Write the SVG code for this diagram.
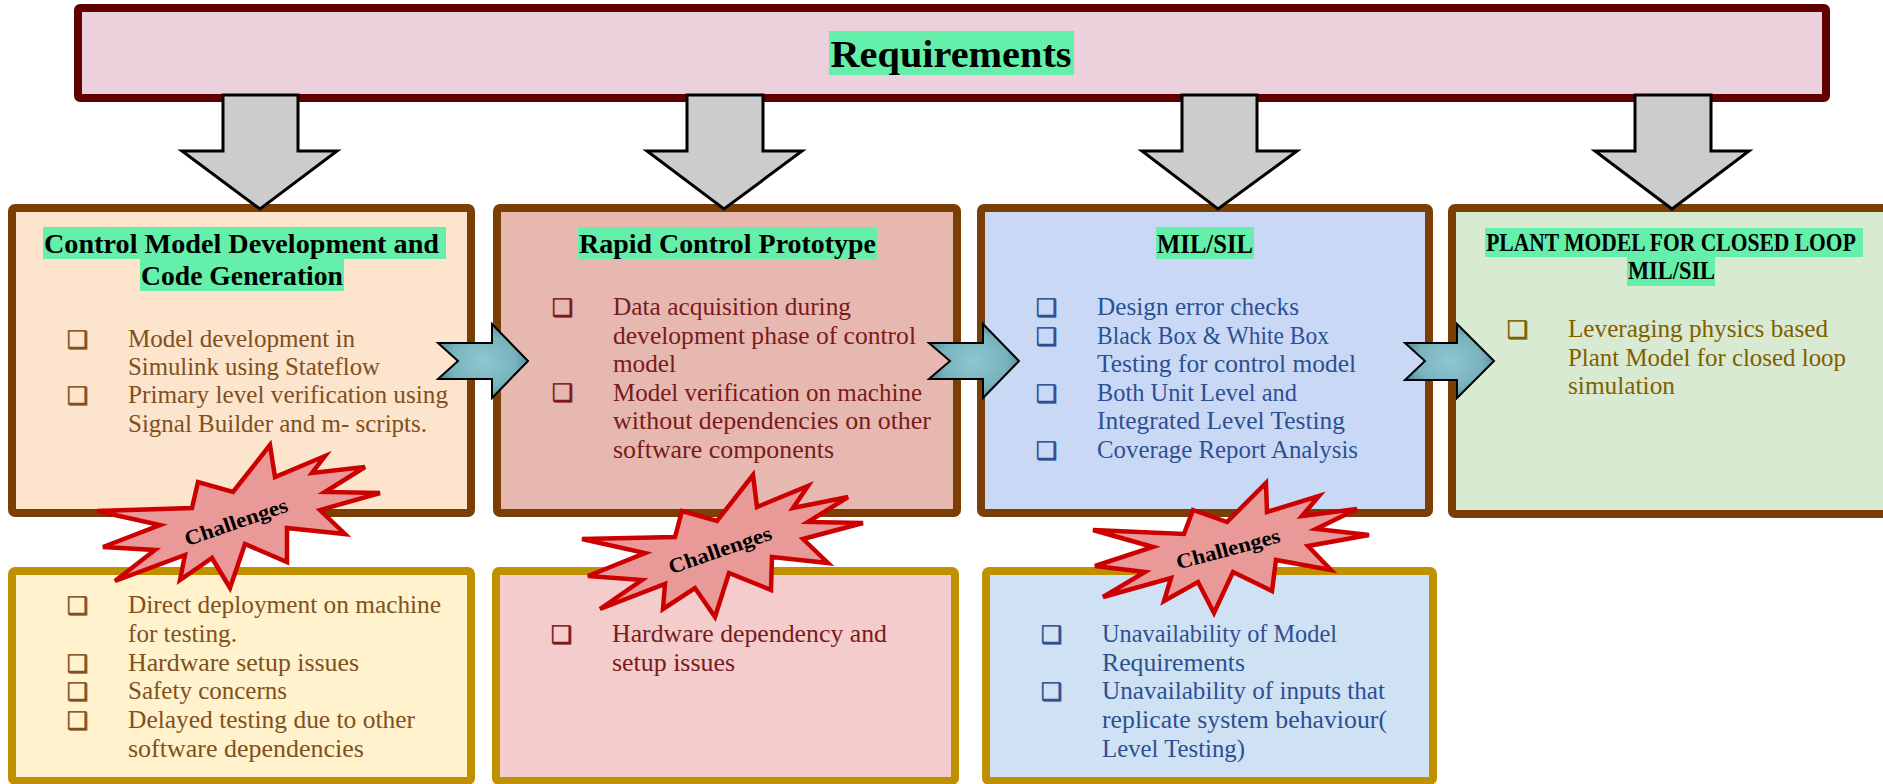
<svg xmlns="http://www.w3.org/2000/svg" width="1883" height="784" viewBox="0 0 1883 784">
  <defs>
    <style>
      .hdr { font-family: "Liberation Serif", "DejaVu Serif", serif; font-weight: bold; fill: #000; }
      .body { font-family: "Liberation Serif", "DejaVu Serif", serif; font-size: 24.5px; }
      .bul { font-family: "DejaVu Sans", sans-serif; font-size: 24px; stroke-width: 0.6; }
      .brown { fill: #7F5020; stroke: #7F5020; }
      .red { fill: #7A1A1A; stroke: #7A1A1A; }
      .blue { fill: #2E4F92; stroke: #2E4F92; }
      .olive { fill: #7F6000; stroke: #7F6000; }
      .body.brown, .body.red, .body.blue, .body.olive { stroke: none; }
      .hl { fill: #64F0AA; }
      .top { stroke: #7B3F06; stroke-width: 8; }
      .bot { stroke: #BF9000; stroke-width: 8; }
      .down { fill: #CCCCCC; stroke: #000; stroke-width: 3; stroke-linejoin: miter; }
      .flow { fill: url(#teal); stroke: #000; stroke-width: 2; stroke-linejoin: miter; }
      .star { fill: #E99A98; stroke: #CC0000; stroke-width: 4.5; stroke-linejoin: miter; }
      .chal { font-family: "Liberation Serif", "DejaVu Serif", serif; font-weight: bold; font-size: 21px; fill: #000; }
    </style>
    <radialGradient id="teal" cx="0.5" cy="0.5" r="0.6">
      <stop offset="0" stop-color="#8FC7D1"/>
      <stop offset="0.6" stop-color="#79B3BE"/>
      <stop offset="1" stop-color="#3F7E8B"/>
    </radialGradient>
  </defs>

  <!-- Requirements banner -->
  <g id="requirements">
    <rect x="78" y="8" width="1748" height="90" rx="2" fill="#EAD1DC" stroke="#600000" stroke-width="8"/>
    <rect class="hl" x="829" y="31" width="245" height="44"/>
    <text class="hdr" x="951" y="67" font-size="37" text-anchor="middle" textLength="241" lengthAdjust="spacingAndGlyphs">Requirements</text>
  </g>

  <!-- Top row: process stages -->
  <g id="control-model">
    <rect class="top" x="12" y="208" width="459" height="305" rx="3" fill="#FCE4CD"/>
    <rect class="hl" x="43" y="227" width="403" height="32"/>
    <rect class="hl" x="140" y="259" width="204" height="32"/>
    <text class="hdr" x="241.5" y="253" font-size="28" text-anchor="middle" textLength="395" lengthAdjust="spacingAndGlyphs">Control Model Development and</text>
    <text class="hdr" x="242" y="285" font-size="28" text-anchor="middle" textLength="202" lengthAdjust="spacingAndGlyphs">Code Generation</text>
    <g class="bul brown">
      <text x="67" y="348">❑</text>
      <text x="67" y="404">❑</text>
    </g>
    <g class="body brown">
      <text x="128" y="347" textLength="227" lengthAdjust="spacingAndGlyphs">Model development in</text>
      <text x="128" y="375" textLength="252" lengthAdjust="spacingAndGlyphs">Simulink using Stateflow</text>
      <text x="128" y="403" textLength="320" lengthAdjust="spacingAndGlyphs">Primary level verification using</text>
      <text x="128" y="432" textLength="299" lengthAdjust="spacingAndGlyphs">Signal Builder and m- scripts.</text>
    </g>
  </g>

  <g id="rapid-prototype">
    <rect class="top" x="497" y="208" width="460" height="305" rx="3" fill="#E6B8B0"/>
    <rect class="hl" x="578" y="227" width="299" height="32"/>
    <text class="hdr" x="727.5" y="253" font-size="28" text-anchor="middle" textLength="297" lengthAdjust="spacingAndGlyphs">Rapid Control Prototype</text>
    <g class="bul red">
      <text x="552" y="316">❑</text>
      <text x="552" y="401">❑</text>
    </g>
    <g class="body red">
      <text x="613" y="315" textLength="238" lengthAdjust="spacingAndGlyphs">Data acquisition during</text>
      <text x="613" y="343.6" textLength="303" lengthAdjust="spacingAndGlyphs">development phase of control</text>
      <text x="613" y="372.2" textLength="63" lengthAdjust="spacingAndGlyphs">model</text>
      <text x="613" y="400.8" textLength="309" lengthAdjust="spacingAndGlyphs">Model verification on machine</text>
      <text x="613" y="429.4" textLength="318" lengthAdjust="spacingAndGlyphs">without dependencies on other</text>
      <text x="613" y="458" textLength="221" lengthAdjust="spacingAndGlyphs">software components</text>
    </g>
  </g>

  <g id="mil-sil">
    <rect class="top" x="981" y="208" width="448" height="305" rx="3" fill="#C9D9F5"/>
    <rect class="hl" x="1156" y="227" width="98" height="32"/>
    <text class="hdr" x="1205" y="253" font-size="28" text-anchor="middle" textLength="96" lengthAdjust="spacingAndGlyphs">MIL/SIL</text>
    <g class="bul blue">
      <text x="1036" y="316">❑</text>
      <text x="1036" y="344.6">❑</text>
      <text x="1036" y="401.8">❑</text>
      <text x="1036" y="459">❑</text>
    </g>
    <g class="body blue">
      <text x="1097" y="315" textLength="202" lengthAdjust="spacingAndGlyphs">Design error checks</text>
      <text x="1097" y="343.6" textLength="232" lengthAdjust="spacingAndGlyphs">Black Box &amp; White Box</text>
      <text x="1097" y="372.2" textLength="259" lengthAdjust="spacingAndGlyphs">Testing for control model</text>
      <text x="1097" y="400.8" textLength="200" lengthAdjust="spacingAndGlyphs">Both Unit Level and</text>
      <text x="1097" y="429.4" textLength="248" lengthAdjust="spacingAndGlyphs">Integrated Level Testing</text>
      <text x="1097" y="458" textLength="261" lengthAdjust="spacingAndGlyphs">Coverage Report Analysis</text>
    </g>
  </g>

  <g id="plant-model">
    <rect class="top" x="1452" y="208" width="440" height="306" rx="3" fill="#D9EAD3"/>
    <rect class="hl" x="1485" y="228" width="378" height="29"/>
    <rect class="hl" x="1627" y="257" width="88" height="29"/>
    <text class="hdr" transform="translate(1671,251) scale(0.8,1)" x="0" y="0" font-size="24.5" text-anchor="middle" textLength="462" lengthAdjust="spacingAndGlyphs">PLANT MODEL FOR CLOSED LOOP</text>
    <text class="hdr" x="1671.5" y="279" font-size="24.5" text-anchor="middle" textLength="87" lengthAdjust="spacingAndGlyphs">MIL/SIL</text>
    <g class="bul olive">
      <text x="1507" y="338">❑</text>
    </g>
    <g class="body olive">
      <text x="1568" y="337" textLength="260" lengthAdjust="spacingAndGlyphs">Leveraging physics based</text>
      <text x="1568" y="366" textLength="278" lengthAdjust="spacingAndGlyphs">Plant Model for closed loop</text>
      <text x="1568" y="394" textLength="107" lengthAdjust="spacingAndGlyphs">simulation</text>
    </g>
  </g>

  <!-- Bottom row: challenges per stage -->
  <g id="control-model-challenges">
    <rect class="bot" x="12" y="571" width="459" height="210" rx="3" fill="#FFF2CC"/>
    <g class="bul brown">
      <text x="67" y="614">❑</text>
      <text x="67" y="672">❑</text>
      <text x="67" y="700">❑</text>
      <text x="67" y="729">❑</text>
    </g>
    <g class="body brown">
      <text x="128" y="613" textLength="313" lengthAdjust="spacingAndGlyphs">Direct deployment on machine</text>
      <text x="128" y="642" textLength="109" lengthAdjust="spacingAndGlyphs">for testing.</text>
      <text x="128" y="671" textLength="231" lengthAdjust="spacingAndGlyphs">Hardware setup issues</text>
      <text x="128" y="699" textLength="159" lengthAdjust="spacingAndGlyphs">Safety concerns</text>
      <text x="128" y="728" textLength="287" lengthAdjust="spacingAndGlyphs">Delayed testing due to other</text>
      <text x="128" y="757" textLength="236" lengthAdjust="spacingAndGlyphs">software dependencies</text>
    </g>
  </g>

  <g id="rapid-prototype-challenges">
    <rect class="bot" x="496" y="571" width="459" height="210" rx="3" fill="#F4CCCC"/>
    <g class="bul red">
      <text x="551" y="643">❑</text>
    </g>
    <g class="body red">
      <text x="612" y="642" textLength="275" lengthAdjust="spacingAndGlyphs">Hardware dependency and</text>
      <text x="612" y="671" textLength="123" lengthAdjust="spacingAndGlyphs">setup issues</text>
    </g>
  </g>

  <g id="mil-sil-challenges">
    <rect class="bot" x="986" y="571" width="447" height="210" rx="3" fill="#CFE2F3"/>
    <g class="bul blue">
      <text x="1041" y="643">❑</text>
      <text x="1041" y="700">❑</text>
    </g>
    <g class="body blue">
      <text x="1102" y="642" textLength="235" lengthAdjust="spacingAndGlyphs">Unavailability of Model</text>
      <text x="1102" y="671" textLength="143" lengthAdjust="spacingAndGlyphs">Requirements</text>
      <text x="1102" y="699" textLength="283" lengthAdjust="spacingAndGlyphs">Unavailability of inputs that</text>
      <text x="1102" y="728" textLength="285" lengthAdjust="spacingAndGlyphs">replicate system behaviour(</text>
      <text x="1102" y="757" textLength="143" lengthAdjust="spacingAndGlyphs">Level Testing)</text>
    </g>
  </g>

  <!-- Connectors: block arrows -->
  <g id="connectors">
    <polygon class="down" points="223,95 298,95 298,151 337,151 260,209 182,151 223,151"/>
    <polygon class="down" points="687,95 763,95 763,151 802,151 724,209 647,151 687,151"/>
    <polygon class="down" points="1182,95 1257,95 1257,151 1297,151 1218,209 1142,151 1182,151"/>
    <polygon class="down" points="1635,95 1711,95 1711,151 1749,151 1672,209 1595,151 1635,151"/>

    <polygon class="flow" points="438,343 492,343 492,324 528,361 492,398 492,379 438,379 458,361"/>
    <polygon class="flow" points="929,343 983,343 983,324 1019,361 983,398 983,379 929,379 950,361"/>
    <polygon class="flow" points="1405,343 1457,343 1457,324 1494,361 1457,398 1457,380 1405,380 1425,361"/>
  </g>

  <!-- Challenge bursts -->
  <g id="burst-1">
    <polygon class="star" points="270,445 275,477 325,456 312,473 365,467 325,492 380,493 320,510 345,534 287,528 287,562 245,544 230,588 212,558 180,580 185,555 115,581 155,550 103,547 160,525 97,511 192,508 198,482 233,492"/>
    <text class="chal" transform="translate(236,522) rotate(-19)" x="0" y="7" text-anchor="middle" textLength="108" lengthAdjust="spacingAndGlyphs">Challenges</text>
  </g>
  <g id="burst-2">
    <polygon class="star" points="753,475 757,507 808,486 793,508 848,497 808,522 863,523 803,539 828,563 772,557 771,590 729,573 715,617 695,588 663,609 665,584 600,609 642,580 588,576 645,553 582,539 675,537 682,511 717,521"/>
    <text class="chal" transform="translate(720,550) rotate(-19)" x="0" y="7" text-anchor="middle" textLength="108" lengthAdjust="spacingAndGlyphs">Challenges</text>
  </g>
  <g id="burst-3">
    <polygon class="star" points="1266,483 1267,512 1319,496 1302,516 1357,509 1316,529 1369,535 1308,546 1331,570 1276,560 1272,591 1233,572 1214,613 1198,582 1164,601 1171,578 1103,597 1145,572 1095,566 1153,547 1093,530 1184,534 1193,510 1227,522"/>
    <text class="chal" transform="translate(1228,549) rotate(-15)" x="0" y="7" text-anchor="middle" textLength="107" lengthAdjust="spacingAndGlyphs">Challenges</text>
  </g>
</svg>
